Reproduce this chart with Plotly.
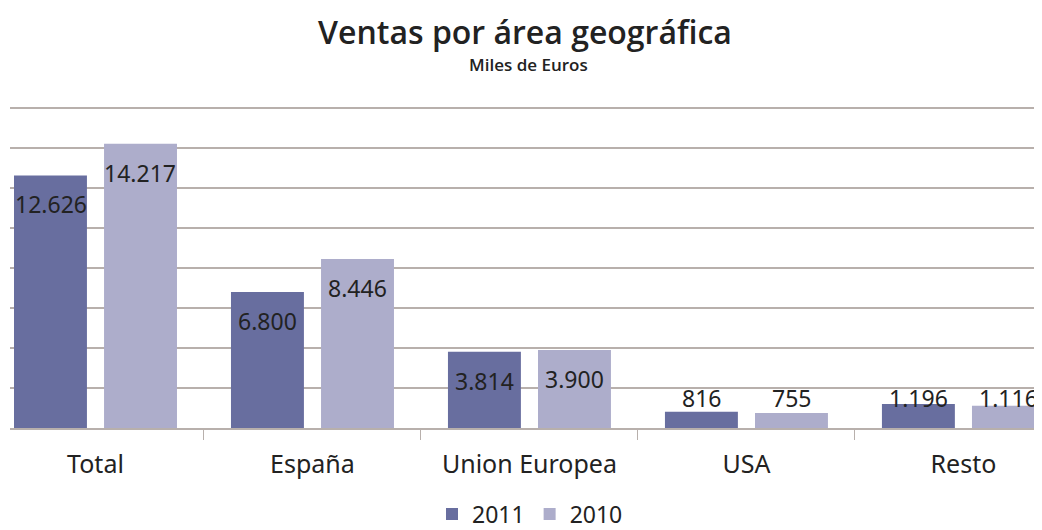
import plotly.graph_objects as go

categories = ["Total", "España", "Union Europea", "USA", "Resto"]
ventas_2011 = [12626, 6800, 3814, 816, 1196]
ventas_2010 = [14217, 8446, 3900, 755, 1116]
series_names = ["2011", "2010"]
y_ticks = [0, 2000, 4000, 6000, 8000, 10000, 12000, 14000, 16000]

color_2011 = "#686E9F"
color_2010 = "#ADADCB"
grid_color = "#B8B0AC"
text_color = "#222222"
label_font = "Noto Sans"

# page body margin shifts the figure by 8px; layout is given in figure pixels
T, B, L = 96, 110, 2
PH = 530 - T - B
PW = 1042 - L

def fmt(v):
    return f"{v:,}".replace(",", ".")

fig = go.Figure()
fig.add_trace(go.Bar(name=series_names[0], x=categories, y=ventas_2011,
                     marker=dict(color=color_2011, line=dict(width=0))))
fig.add_trace(go.Bar(name=series_names[1], x=categories, y=ventas_2010,
                     marker=dict(color=color_2010, line=dict(width=0))))

annotations = []
offsets = [-0.207, 0.207]
for s, vals in enumerate([ventas_2011, ventas_2010]):
    for i, v in enumerate(vals):
        tall = v >= 2000
        annotations.append(dict(x=i + offsets[s], y=v if tall else 0, xref="x", yref="y",
                                text=fmt(v), showarrow=False, yanchor="middle",
                                yshift=-29 if tall else 30,
                                font=dict(family=label_font, size=23, color=text_color)))

annotations.append(dict(x=(520 - L) / PW, y=(530 - B - 57) / PH, xref="paper", yref="paper",
                        text="Miles de Euros", showarrow=False, xanchor="center",
                        yanchor="middle",
                        font=dict(family="Open Sans", size=17, color=text_color, weight=600)))

fig.update_layout(
    width=1042, height=530,
    margin=dict(l=L, r=0, t=T, b=B, autoexpand=False),
    paper_bgcolor="white", plot_bgcolor="white",
    barmode="group", bargap=0.17, bargroupgap=0.19,
    title=dict(text="Ventas por área geográfica", x=517 / 1042, xanchor="center",
               y=1 - 25 / 530, yanchor="middle",
               font=dict(family="Open Sans", size=32, color=text_color, weight=600)),
    annotations=annotations,
    showlegend=True,
    legend=dict(orientation="h", x=(522 - L) / PW, xanchor="center",
                y=(530 - B - 506) / PH, yanchor="middle",
                font=dict(family=label_font, size=23, color=text_color),
                itemwidth=30, traceorder="normal"),
    xaxis=dict(range=[-0.394, 4.399], type="category", tickson="boundaries",
               ticks="outside", ticklen=10, tickcolor=grid_color, showline=True,
               linecolor=grid_color, linewidth=1.5, showgrid=False, ticklabelstandoff=13,
               tickfont=dict(family=label_font, size=25, color=text_color)),
    yaxis=dict(range=[0, 16200], tickvals=y_ticks, showticklabels=False,
               showgrid=True, gridcolor=grid_color, gridwidth=1.5, zeroline=False),
)

fig.write_html("out.html")
